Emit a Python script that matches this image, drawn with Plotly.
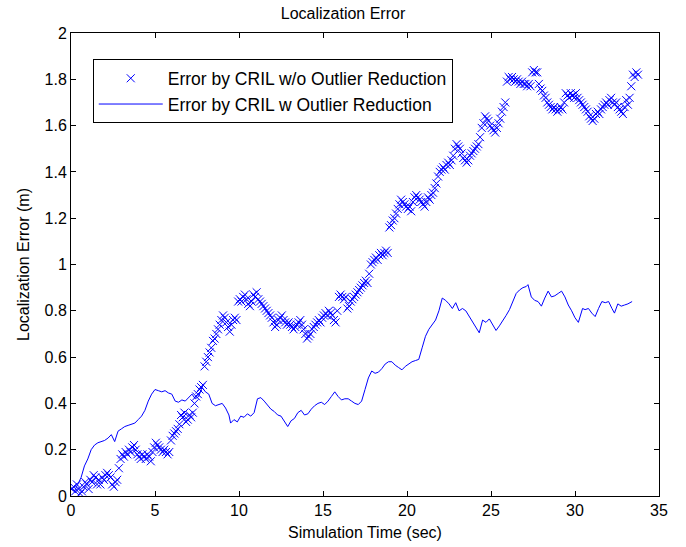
import plotly.graph_objects as go

# Localization error without outlier reduction (sampled every 0.1 s)
raw_time = [
    0.05, 0.15, 0.25, 0.35, 0.45, 0.55, 0.65, 0.75, 0.85, 0.95,
    1.05, 1.15, 1.25, 1.35, 1.45, 1.55, 1.65, 1.75, 1.85, 1.95,
    2.05, 2.15, 2.25, 2.35, 2.45, 2.55, 2.65, 2.75, 2.85, 2.95,
    3.05, 3.15, 3.25, 3.35, 3.45, 3.55, 3.65, 3.75, 3.85, 3.95,
    4.05, 4.15, 4.25, 4.35, 4.45, 4.55, 4.65, 4.75, 4.85, 4.95,
    5.05, 5.15, 5.25, 5.35, 5.45, 5.55, 5.65, 5.75, 5.85, 5.95,
    6.05, 6.15, 6.25, 6.35, 6.45, 6.55, 6.65, 6.75, 6.85, 6.95,
    7.05, 7.15, 7.25, 7.35, 7.45, 7.55, 7.65, 7.75, 7.85, 7.95,
    8.05, 8.15, 8.25, 8.35, 8.45, 8.55, 8.65, 8.75, 8.85, 8.95,
    9.05, 9.15, 9.25, 9.35, 9.45, 9.55, 9.65, 9.75, 9.85, 9.95,
    10.05, 10.15, 10.25, 10.35, 10.45, 10.55, 10.65, 10.75, 10.85, 10.95,
    11.05, 11.15, 11.25, 11.35, 11.45, 11.55, 11.65, 11.75, 11.85, 11.95,
    12.05, 12.15, 12.25, 12.35, 12.45, 12.55, 12.65, 12.75, 12.85, 12.95,
    13.05, 13.15, 13.25, 13.35, 13.45, 13.55, 13.65, 13.75, 13.85, 13.95,
    14.05, 14.15, 14.25, 14.35, 14.45, 14.55, 14.65, 14.75, 14.85, 14.95,
    15.05, 15.15, 15.25, 15.35, 15.45, 15.55, 15.65, 15.75, 15.85, 15.95,
    16.05, 16.15, 16.25, 16.35, 16.45, 16.55, 16.65, 16.75, 16.85, 16.95,
    17.05, 17.15, 17.25, 17.35, 17.45, 17.55, 17.65, 17.75, 17.85, 17.95,
    18.05, 18.15, 18.25, 18.35, 18.45, 18.55, 18.65, 18.75, 18.85, 18.95,
    19.05, 19.15, 19.25, 19.35, 19.45, 19.55, 19.65, 19.75, 19.85, 19.95,
    20.05, 20.15, 20.25, 20.35, 20.45, 20.55, 20.65, 20.75, 20.85, 20.95,
    21.05, 21.15, 21.25, 21.35, 21.45, 21.55, 21.65, 21.75, 21.85, 21.95,
    22.05, 22.15, 22.25, 22.35, 22.45, 22.55, 22.65, 22.75, 22.85, 22.95,
    23.05, 23.15, 23.25, 23.35, 23.45, 23.55, 23.65, 23.75, 23.85, 23.95,
    24.05, 24.15, 24.25, 24.35, 24.45, 24.55, 24.65, 24.75, 24.85, 24.95,
    25.05, 25.15, 25.25, 25.35, 25.45, 25.55, 25.65, 25.75, 25.85, 25.95,
    26.05, 26.15, 26.25, 26.35, 26.45, 26.55, 26.65, 26.75, 26.85, 26.95,
    27.05, 27.15, 27.25, 27.35, 27.45, 27.55, 27.65, 27.75, 27.85, 27.95,
    28.05, 28.15, 28.25, 28.35, 28.45, 28.55, 28.65, 28.75, 28.85, 28.95,
    29.05, 29.15, 29.25, 29.35, 29.45, 29.55, 29.65, 29.75, 29.85, 29.95,
    30.05, 30.15, 30.25, 30.35, 30.45, 30.55, 30.65, 30.75, 30.85, 30.95,
    31.05, 31.15, 31.25, 31.35, 31.45, 31.55, 31.65, 31.75, 31.85, 31.95,
    32.05, 32.15, 32.25, 32.35, 32.45, 32.55, 32.65, 32.75, 32.85, 32.95,
    33.05, 33.15, 33.25, 33.35, 33.45, 33.55, 33.65, 33.75,
]
raw_error = [
    0.03, 0.04, 0.02, 0.05, 0.03, 0.01, 0.02, 0.04, 0.06, 0.05,
    0.03, 0.07, 0.06, 0.09, 0.08, 0.05, 0.07, 0.05, 0.08, 0.07,
    0.09, 0.10, 0.09, 0.08, 0.05, 0.04, 0.06, 0.07, 0.12, 0.16,
    0.18, 0.17, 0.19, 0.18, 0.20, 0.19, 0.21, 0.22, 0.20, 0.18,
    0.17, 0.16, 0.18, 0.17, 0.16, 0.18, 0.17, 0.15, 0.19, 0.21,
    0.23, 0.22, 0.21, 0.20, 0.19, 0.20, 0.19, 0.18, 0.19, 0.24,
    0.26, 0.27, 0.28, 0.29, 0.31, 0.35, 0.34, 0.36, 0.32, 0.33,
    0.35, 0.34, 0.36, 0.40, 0.43, 0.44, 0.46, 0.47, 0.48, 0.56,
    0.58, 0.60, 0.62, 0.64, 0.67, 0.68, 0.70, 0.72, 0.74, 0.76,
    0.78, 0.77, 0.75, 0.73, 0.71, 0.74, 0.76, 0.77, 0.76, 0.84,
    0.85, 0.84, 0.86, 0.87, 0.85, 0.83, 0.82, 0.84, 0.87, 0.86,
    0.88, 0.85, 0.84, 0.83, 0.82, 0.81, 0.80, 0.79, 0.78, 0.77,
    0.75, 0.73, 0.74, 0.76, 0.77, 0.78, 0.76, 0.75, 0.74, 0.75,
    0.74, 0.73, 0.72, 0.73, 0.74, 0.75, 0.76, 0.74, 0.72, 0.70,
    0.68, 0.69, 0.70, 0.72, 0.73, 0.74, 0.75, 0.76, 0.75, 0.77,
    0.78, 0.79, 0.78, 0.80, 0.79, 0.78, 0.76, 0.75, 0.80, 0.86,
    0.87, 0.86, 0.85, 0.86, 0.81, 0.82, 0.84, 0.85, 0.86, 0.87,
    0.88, 0.89, 0.90, 0.91, 0.92, 0.93, 0.92, 0.96, 1.00, 1.01,
    1.02, 1.03, 1.02, 1.04, 1.05, 1.04, 1.05, 1.06, 1.05, 1.16,
    1.17, 1.19, 1.20, 1.22, 1.24, 1.26, 1.28, 1.27, 1.26, 1.25,
    1.24, 1.25, 1.23, 1.27, 1.29, 1.30, 1.29, 1.28, 1.27, 1.26,
    1.25, 1.27, 1.29, 1.28, 1.30, 1.31, 1.33, 1.35, 1.38, 1.40,
    1.41, 1.42, 1.41, 1.43, 1.44, 1.43, 1.45, 1.47, 1.50, 1.52,
    1.51, 1.50, 1.48, 1.46, 1.45, 1.44, 1.45, 1.47, 1.48, 1.49,
    1.50, 1.51, 1.52, 1.55, 1.59, 1.61, 1.64, 1.63, 1.62, 1.60,
    1.59, 1.58, 1.57, 1.59, 1.61, 1.63, 1.66, 1.68, 1.70, 1.79,
    1.81, 1.80, 1.81, 1.80, 1.79, 1.80, 1.79, 1.78, 1.79, 1.78,
    1.78, 1.77, 1.78, 1.77, 1.83, 1.84, 1.83, 1.83, 1.78, 1.76,
    1.75, 1.73, 1.72, 1.70, 1.69, 1.68, 1.67, 1.68, 1.67, 1.66,
    1.67, 1.68, 1.67, 1.70, 1.74, 1.73, 1.72, 1.74, 1.73, 1.72,
    1.74, 1.72, 1.71, 1.70, 1.69, 1.68, 1.67, 1.66, 1.64, 1.63,
    1.62, 1.63, 1.65, 1.66, 1.65, 1.67, 1.68, 1.69, 1.70, 1.69,
    1.71, 1.72, 1.70, 1.69, 1.70, 1.68, 1.67, 1.66, 1.65, 1.68,
    1.71, 1.69, 1.72, 1.77, 1.82, 1.81, 1.83, 1.82,
]

# Localization error with outlier reduction
filtered_time = [
    0.0, 0.2, 0.4, 0.6, 0.8, 1.0, 1.2, 1.4, 1.6, 1.8,
    2.0, 2.2, 2.4, 2.6, 2.8, 3.0, 3.2, 3.4, 3.6, 3.8,
    4.0, 4.2, 4.4, 4.6, 4.8, 5.0, 5.2, 5.4, 5.6, 5.8,
    6.0, 6.2, 6.4, 6.6, 6.8, 7.0, 7.2, 7.4, 7.6, 7.8,
    8.0, 8.2, 8.4, 8.6, 8.8, 9.0, 9.2, 9.4, 9.5, 9.7,
    9.9, 10.1, 10.3, 10.5, 10.7, 10.9, 11.1, 11.3, 11.5, 11.7,
    11.9, 12.1, 12.3, 12.5, 12.7, 12.9, 13.1, 13.3, 13.5, 13.7,
    13.9, 14.1, 14.3, 14.5, 14.7, 14.9, 15.1, 15.3, 15.5, 15.7,
    15.9, 16.1, 16.3, 16.5, 16.7, 16.9, 17.1, 17.3, 17.5, 17.7,
    17.9, 18.1, 18.3, 18.5, 18.7, 18.9, 19.1, 19.3, 19.5, 19.7,
    19.9, 20.1, 20.3, 20.5, 20.7, 20.9, 21.1, 21.3, 21.5, 21.7,
    21.9, 22.1, 22.3, 22.5, 22.7, 22.9, 23.1, 23.3, 23.5, 23.7,
    23.9, 24.1, 24.3, 24.5, 24.7, 24.9, 25.1, 25.3, 25.5, 25.7,
    25.9, 26.1, 26.3, 26.5, 26.7, 26.9, 27.1, 27.2, 27.4, 27.6,
    27.8, 28.0, 28.2, 28.4, 28.6, 28.8, 29.0, 29.2, 29.4, 29.6,
    29.8, 30.0, 30.2, 30.3, 30.45, 30.6, 30.8, 31.0, 31.2, 31.4,
    31.6, 31.8, 32.0, 32.2, 32.35, 32.55, 32.75, 32.95, 33.15, 33.4,
]
filtered_error = [
    0.03, 0.02, 0.05, 0.08, 0.13, 0.16, 0.20, 0.22, 0.23, 0.235,
    0.24, 0.25, 0.265, 0.235, 0.28, 0.29, 0.30, 0.305, 0.31, 0.315,
    0.33, 0.345, 0.37, 0.41, 0.44, 0.46, 0.455, 0.45, 0.455, 0.445,
    0.44, 0.41, 0.405, 0.415, 0.41, 0.425, 0.44, 0.42, 0.43, 0.47,
    0.45, 0.44, 0.40, 0.39, 0.395, 0.40, 0.38, 0.35, 0.315, 0.33,
    0.32, 0.345, 0.34, 0.355, 0.345, 0.36, 0.42, 0.425, 0.41, 0.39,
    0.375, 0.365, 0.35, 0.345, 0.32, 0.30, 0.325, 0.335, 0.36, 0.37,
    0.35, 0.355, 0.375, 0.39, 0.40, 0.405, 0.395, 0.41, 0.43, 0.45,
    0.43, 0.415, 0.42, 0.42, 0.41, 0.40, 0.395, 0.41, 0.46, 0.51,
    0.54, 0.53, 0.535, 0.55, 0.57, 0.58, 0.58, 0.565, 0.555, 0.545,
    0.56, 0.57, 0.58, 0.585, 0.59, 0.64, 0.69, 0.72, 0.74, 0.76,
    0.80, 0.855, 0.845, 0.83, 0.81, 0.835, 0.80, 0.81, 0.80, 0.775,
    0.755, 0.73, 0.705, 0.76, 0.75, 0.765, 0.74, 0.715, 0.735, 0.755,
    0.78, 0.805, 0.84, 0.875, 0.89, 0.90, 0.905, 0.913, 0.86, 0.845,
    0.84, 0.82, 0.855, 0.885, 0.86, 0.865, 0.875, 0.885, 0.86, 0.825,
    0.80, 0.77, 0.75, 0.775, 0.81, 0.805, 0.81, 0.79, 0.775, 0.81,
    0.84, 0.835, 0.84, 0.81, 0.79, 0.83, 0.82, 0.825, 0.83, 0.84,
]

x_ticks = [0, 5, 10, 15, 20, 25, 30, 35]
y_ticks = [0, 0.2, 0.4, 0.6, 0.8, 1, 1.2, 1.4, 1.6, 1.8, 2]

BLUE = "rgb(0,0,255)"
FONT = "Liberation Sans, Arial, sans-serif"

fig = go.Figure()
fig.add_trace(go.Scatter(
    x=raw_time, y=raw_error, mode="markers",
    name="Error by CRIL w/o Outlier Reduction",
    marker=dict(symbol="x-thin-open", size=8, color=BLUE,
                line=dict(color=BLUE, width=1)),
))
fig.add_trace(go.Scatter(
    x=filtered_time, y=filtered_error, mode="lines",
    name="Error by CRIL w Outlier Reduction",
    line=dict(color=BLUE, width=1),
))

axis_common = dict(
    showline=True, linecolor="black", linewidth=1, mirror="ticks",
    ticks="inside", ticklen=5, tickcolor="black", showgrid=False,
    zeroline=False, automargin=False,
    tickfont=dict(size=16, color="black", family=FONT),
)
fig.update_xaxes(range=[0, 35], tickvals=x_ticks,
                 ticktext=[str(v) for v in x_ticks],
                 title=dict(text="Simulation Time (sec)", standoff=8,
                            font=dict(size=16, color="black", family=FONT)),
                 **axis_common)
fig.update_yaxes(range=[0, 2], tickvals=y_ticks,
                 ticktext=[f"{v:g}" for v in y_ticks],
                 title=dict(text="Localization Error (m)", standoff=10,
                            font=dict(size=16, color="black", family=FONT)),
                 **axis_common)

fig.update_layout(
    width=686, height=547,
    margin=dict(l=71, r=27, t=33, b=51, autoexpand=False),
    paper_bgcolor="white", plot_bgcolor="white",
    font=dict(family=FONT, color="black"),
    title=dict(text="Localization Error", x=0.5, xanchor="center",
               y=1 - 13 / 547, yanchor="middle",
               font=dict(size=16, color="black", family=FONT)),
    legend=dict(x=0.037, y=0.943, xanchor="left", yanchor="top",
                bgcolor="white", bordercolor="black", borderwidth=1,
                font=dict(size=17.5, color="black", family=FONT),
                tracegroupgap=0, itemwidth=64),
    showlegend=True,
)

fig.write_html("out.html")
